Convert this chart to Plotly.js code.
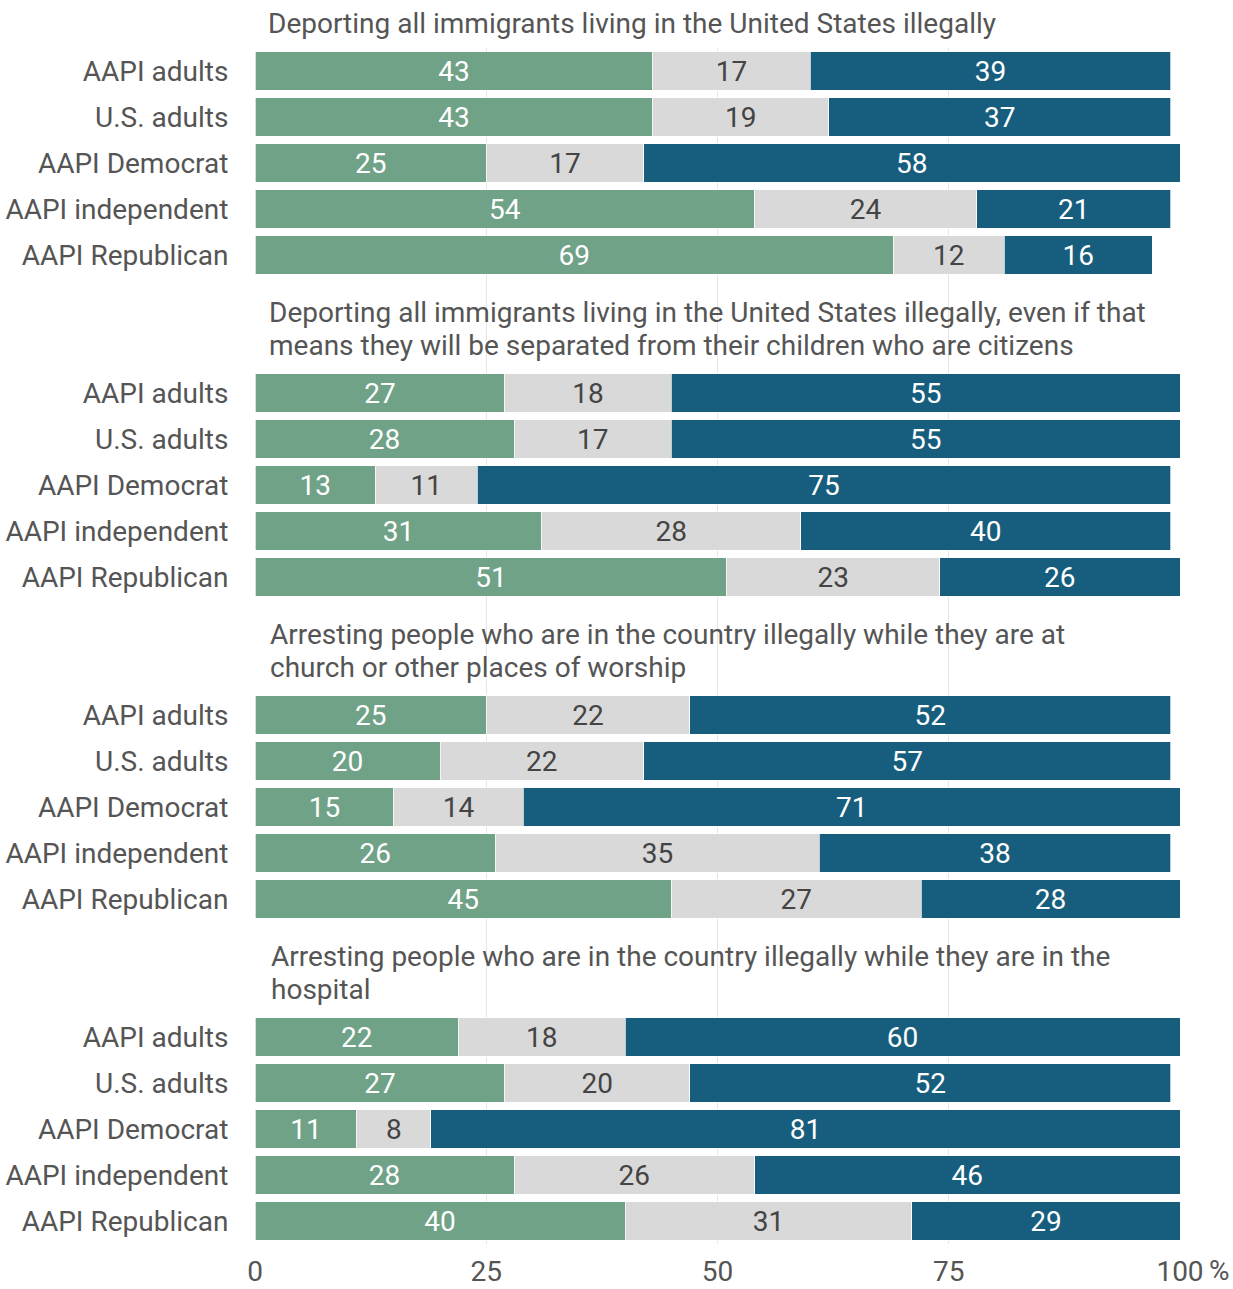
<!DOCTYPE html>
<html>
<head>
<meta charset="utf-8">
<script src="https://cdn.plot.ly/plotly-3.0.1.min.js"></script>
<style>
html,body{margin:0;padding:0;background:#fff;}
#chart{width:1233px;height:1289px;}
</style>
</head>
<body>
<div id="chart"></div>
<script>
// ---- data ----
const groupTitles = [
  ["Deporting all immigrants living in the United States illegally"],
  ["Deporting all immigrants living in the United States illegally, even if that",
   "means they will be separated from their children who are citizens"],
  ["Arresting people who are in the country illegally while they are at",
   "church or other places of worship"],
  ["Arresting people who are in the country illegally while they are in the",
   "hospital"]
];
const rowLabels = ["AAPI adults", "U.S. adults", "AAPI Democrat", "AAPI independent", "AAPI Republican"];
const seriesNames = ["Favor", "Neither", "Oppose"];
const favor = [
  [43, 43, 25, 54, 69],
  [27, 28, 13, 31, 51],
  [25, 20, 15, 26, 45],
  [22, 27, 11, 28, 40]
];
const neither = [
  [17, 19, 17, 24, 12],
  [18, 17, 11, 28, 23],
  [22, 22, 14, 35, 27],
  [18, 20, 8, 26, 31]
];
const oppose = [
  [39, 37, 58, 21, 16],
  [55, 55, 75, 40, 26],
  [52, 57, 71, 38, 28],
  [60, 52, 81, 46, 29]
];
const xTicks = [0, 25, 50, 75, 100];

// ---- build ----
const FS = 28;
const slotsPerGroup = 7;
const yPos = [], yText = [];
groupTitles.forEach((t, g) => rowLabels.forEach((r, i) => { yPos.push(g * slotsPerGroup + i); yText.push(r); }));
const flat = a => a.reduce((acc, v) => acc.concat(v), []);

const colors = ["#70a288", "#d9d9d9", "#175e7e"];
const textColors = ["#ffffff", "#444444", "#ffffff"];
const seriesData = [favor, neither, oppose];

const traces = seriesData.map((d, k) => {
  const vals = flat(d);
  return {
    type: "bar",
    orientation: "h",
    name: seriesNames[k],
    x: vals,
    y: yPos,
    width: 0.83,
    text: vals.map(String),
    textposition: "inside",
    insidetextanchor: "middle",
    textangle: 0,
    constraintext: "none",
    textfont: {family: "Roboto", size: FS, color: textColors[k]},
    marker: {color: colors[k], line: {color: "rgba(255,255,255,0.7)", width: 1}},
    hoverinfo: "x+name"
  };
});

const annotations = [];
groupTitles.forEach((lines, g) => {
  const n = lines.length;
  lines.forEach((line, j) => {
    annotations.push({
      text: line,
      xref: "paper", x: 0, xanchor: "left", xshift: 11 + g,
      yref: "y", y: g * slotsPerGroup - 0.5, yanchor: "middle",
      yshift: 25 + 33 * (n - 1 - j),
      align: "left", showarrow: false,
      font: {family: "Roboto", size: FS, color: "#555555"}
    });
  });
});
annotations.push({
  text: "%", xref: "x", x: 100, xanchor: "left", xshift: 28,
  yref: "paper", y: 0, yanchor: "top", yshift: -9, borderpad: 0,
  showarrow: false, font: {family: "Roboto", size: FS, color: "#555555"}
});

const layout = {
  width: 1233, height: 1289,
  margin: {l: 255, r: 53, t: 48, b: 45},
  barmode: "stack",
  bargap: 0,
  showlegend: false,
  paper_bgcolor: "#ffffff", plot_bgcolor: "#ffffff",
  font: {family: "Roboto", size: FS, color: "#555555"},
  xaxis: {
    range: [0, 100], tickvals: xTicks, ticktext: xTicks.map(String),
    showgrid: true, gridcolor: "#e6e6e6", gridwidth: 1,
    zeroline: false, showline: false,
    ticks: "outside", ticklen: 2, tickcolor: "rgba(0,0,0,0)",
    tickfont: {family: "Roboto", size: FS, color: "#555555"},
    fixedrange: true
  },
  yaxis: {
    range: [25.5, -0.5], tickvals: yPos, ticktext: yText,
    showgrid: false, zeroline: false, showline: false,
    ticks: "outside", ticklen: 20, tickcolor: "rgba(0,0,0,0)",
    tickfont: {family: "Roboto", size: FS, color: "#555555"},
    fixedrange: true
  },
  annotations: annotations
};

Plotly.newPlot("chart", traces, layout, {displayModeBar: false, staticPlot: true});
</script>
</body>
</html>
